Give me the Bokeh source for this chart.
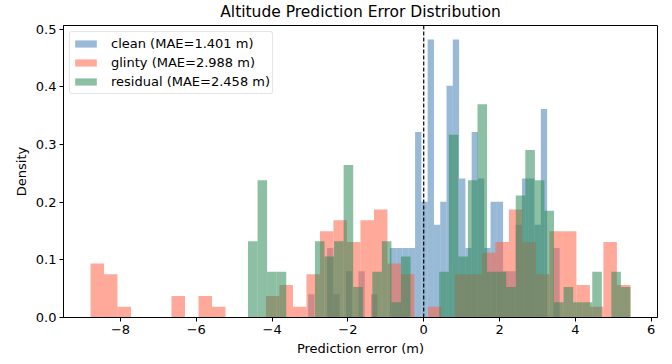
import numpy as np
from bokeh.plotting import figure
from bokeh.models import Range1d, FixedTicker, Span
from bokeh.embed import file_html
from bokeh.resources import INLINE

# ---------------- data ----------------
N_SAMPLES = 150          # samples per series (density normalisation)
N_BINS = 40

series_names = ["clean", "glinty", "residual"]
mae_values = [1.401, 2.988, 2.458]

# data range (min, max) of each series -> 40 equal-width bins
clean_range = (-3.048, 3.587)
glinty_range = (-8.791, 5.452)
residual_range = (-4.636, 5.455)

clean_counts = [1, 0, 0, 3, 1, 0, 2, 0, 2, 0,
                1, 0, 0, 3, 3, 3, 3, 8, 5, 12,
                4, 5, 10, 12, 6, 3, 8, 6, 3, 5,
                5, 2, 2, 4, 6, 6, 4, 9, 0, 3]
glinty_counts = [5, 4, 1, 0, 0, 0, 2, 0, 2, 1,
                 0, 0, 0, 2, 3, 1, 4, 8, 9, 7,
                 9, 10, 5, 4, 0, 1, 0, 4, 4, 6,
                 7, 10, 7, 4, 8, 8, 3, 1, 7, 3]
residual_counts = [5, 9, 3, 3, 0, 0, 0, 5, 4, 5,
                   10, 2, 0, 3, 5, 1, 4, 0, 0, 0,
                   3, 12, 4, 9, 14, 3, 3, 2, 8, 11,
                   9, 7, 1, 2, 1, 1, 3, 0, 3, 2]

ZERO_LINE = 0.0
x_ticks = [-8, -6, -4, -2, 0, 2, 4, 6]
y_ticks = [0.0, 0.1, 0.2, 0.3, 0.4, 0.5]

colors = ["steelblue", "tomato", "seagreen"]
ALPHA = 0.55
FONT = "DejaVu Sans"

# ---------------- build histograms ----------------
ranges = [clean_range, glinty_range, residual_range]
counts = [clean_counts, glinty_counts, residual_counts]
hists = []
for (lo, hi), c in zip(ranges, counts):
    edges = np.linspace(lo, hi, N_BINS + 1)
    width = edges[1] - edges[0]
    dens = np.asarray(c, dtype=float) / (N_SAMPLES * width)
    hists.append((edges[:-1], edges[1:], dens))

xmin = min(r[0] for r in ranges)
xmax = max(r[1] for r in ranges)
span = xmax - xmin
ymax = max(h[2].max() for h in hists) * 1.05

p = figure(width=672, height=364, output_backend="svg", toolbar_location=None,
           x_range=Range1d(xmin - 0.05 * span, xmax + 0.05 * span),
           y_range=Range1d(0, ymax),
           min_border_left=63, min_border_right=15,
           min_border_top=23, min_border_bottom=47,
           title="Altitude Prediction Error Distribution")

for name, mae, col, (l, r, d) in zip(series_names, mae_values, colors, hists):
    p.quad(left=l, right=r, bottom=0, top=d, fill_color=col, fill_alpha=ALPHA,
           line_color=None, legend_label=f"{name} (MAE={mae:.3f} m)")

p.add_layout(Span(location=ZERO_LINE, dimension="height", line_color="black",
                  line_dash="4 2", line_width=1.2))

# ---------------- styling ----------------
p.title.text_font = FONT
p.title.text_font_size = "15.5px"
p.title.text_font_style = "normal"
p.title.align = "center"
p.title.vertical_align = "top"
p.title.standoff = 5
p.title.text_color = "black"

p.grid.visible = False
p.outline_line_color = "black"
p.outline_line_width = 1
p.outline_line_alpha = 1

p.xaxis.ticker = FixedTicker(ticks=x_ticks)
p.yaxis.ticker = FixedTicker(ticks=y_ticks)
p.xaxis.major_label_overrides = {t: (str(t).replace("-", "\u2212")) for t in x_ticks}
p.yaxis.major_label_overrides = {t: f"{t:.1f}" for t in y_ticks}

for ax in (p.xaxis[0], p.yaxis[0]):
    ax.axis_line_color = "black"
    ax.major_tick_line_color = "black"
    ax.minor_tick_line_color = None
    ax.major_tick_in = 0
    ax.major_tick_out = 4
    ax.major_label_text_font = FONT
    ax.major_label_text_font_size = "13px"
    ax.major_label_text_color = "black"
    ax.major_label_standoff = 3
    ax.axis_label_text_font = FONT
    ax.axis_label_text_font_size = "13px"
    ax.axis_label_text_font_style = "normal"
    ax.axis_label_text_color = "black"
    ax.axis_label_standoff = 4

p.xaxis.axis_label = "Prediction error (m)"
p.yaxis.axis_label = "Density"

lg = p.legend[0]
lg.location = "top_left"
lg.margin = 6
lg.padding = 2
lg.spacing = 0
lg.label_height = 19
lg.glyph_height = 9
lg.glyph_width = 27
lg.label_standoff = 12
lg.label_text_font = FONT
lg.label_text_font_size = "13px"
lg.label_text_color = "black"
lg.border_line_color = "#cccccc"
lg.border_line_width = 1
lg.background_fill_alpha = 0.8
if "border_radius" in lg.properties():
    lg.border_radius = 3

open("out.html", "w").write(file_html(p, INLINE))
